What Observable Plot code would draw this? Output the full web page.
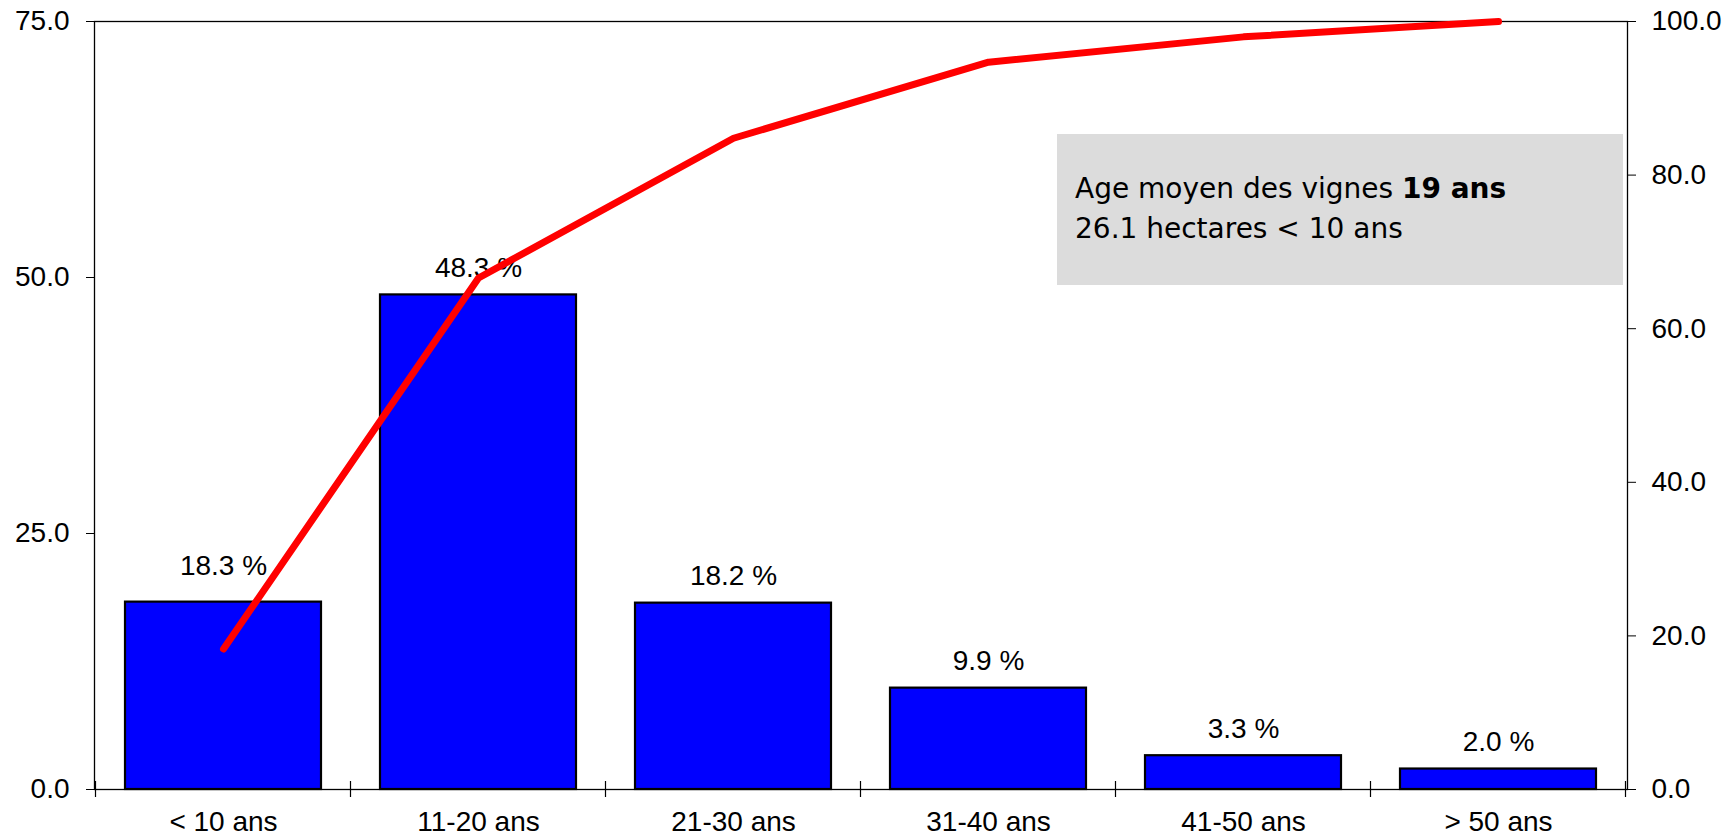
<!DOCTYPE html>
<html>
<head>
<meta charset="utf-8">
<script src="https://cdn.jsdelivr.net/npm/d3@7"></script>
<script src="https://cdn.jsdelivr.net/npm/@observablehq/plot@0.6"></script>
<style>
  html, body { margin: 0; padding: 0; background: #fff; }
  #wrap { position: relative; width: 1735px; height: 837px; overflow: hidden; }
  #note {
    position: absolute; left: 1057px; top: 134px; width: 566px; height: 151px;
    background: #dcdcdc; box-sizing: border-box; padding: 35px 0 0 18px;
    font-family: "DejaVu Sans", sans-serif; font-size: 28px; line-height: 40px; color: #000;
  }
</style>
</head>
<body>
<div id="wrap"></div>
<script>
const categories = ["< 10 ans", "11-20 ans", "21-30 ans", "31-40 ans", "41-50 ans", "> 50 ans"];
const shares = [18.3, 48.3, 18.2, 9.9, 3.3, 2.0];
const cumulative = [18.3, 66.6, 84.8, 94.7, 98.0, 100.0];
const leftTicks = [0, 25, 50, 75];
const rightTicks = [0, 20, 40, 60, 80, 100];
const leftMax = 75;
const rightMax = 100;
const noteLine1 = "Age moyen des vignes ";
const noteBold = "19 ans";
const noteLine2 = "26.1 hectares < 10 ans";

const toLeft = v => v * leftMax / rightMax;
const rows = categories.map((c, i) => ({i, cat: c, share: shares[i], cum: toLeft(cumulative[i])}));
const label = d => d.share.toFixed(1) + " %";

const chart = Plot.plot({
  width: 1735,
  height: 837,
  marginLeft: 94,
  marginRight: 108,
  marginTop: 21,
  marginBottom: 48,
  style: {fontFamily: "'Liberation Sans', Arial, sans-serif", fontSize: "28px", color: "#000", background: "#fff"},
  x: {domain: categories, paddingInner: 0.23, paddingOuter: 0.115, label: null},
  y: {domain: [0, leftMax], label: null},
  marks: [
    Plot.barY(rows, {x: "cat", y: "share", fill: "#0000ff", stroke: "#000", strokeWidth: 2.2}),
    Plot.text(rows.filter(d => d.i === 0), {x: "cat", y: "share", text: label, dy: -36, fontSize: 28, fill: "#000"}),
    Plot.text(rows.filter(d => d.i !== 0), {x: "cat", y: "share", text: label, dy: -27, fontSize: 28, fill: "#000"}),
    Plot.frame({stroke: "#000", strokeWidth: 1.3}),
    Plot.line(rows, {x: "cat", y: "cum", stroke: "#ff0000", strokeWidth: 7, strokeLinecap: "round", strokeLinejoin: "round"}),
    Plot.axisY({ticks: leftTicks, tickFormat: d => d.toFixed(1), tickSize: 8, tickPadding: 17, fontSize: 28, anchor: "left", label: null}),
    Plot.axisY({ticks: rightTicks.map(toLeft), tickFormat: d => (d * rightMax / leftMax).toFixed(1), tickSize: 8, tickPadding: 16, fontSize: 28, anchor: "right", label: null}),
    Plot.axisX({tickSize: 0, tickPadding: 22, fontSize: 28, label: null})
  ]
});

document.getElementById("wrap").appendChild(chart);

// category boundary ticks on the x axis, from the band scale
const xs = chart.scale("x");
const ys = chart.scale("y");
const y0 = ys.apply(0);
const svg = d3.select(chart);
const bounds = categories.map(c => xs.apply(c) + xs.bandwidth / 2 - xs.step / 2);
bounds.push(xs.apply(categories[categories.length - 1]) + xs.bandwidth / 2 + xs.step / 2);
svg.append("g").selectAll("line").data(bounds).join("line")
  .attr("x1", d => d).attr("x2", d => d)
  .attr("y1", y0 - 8).attr("y2", y0 + 8)
  .attr("stroke", "#000").attr("stroke-width", 1.2);

const note = document.createElement("div");
note.id = "note";
note.innerHTML = noteLine1 + "<b>" + noteBold + "</b><br>" + noteLine2.replace("<", "&lt;");
document.getElementById("wrap").appendChild(note);
</script>
</body>
</html>
